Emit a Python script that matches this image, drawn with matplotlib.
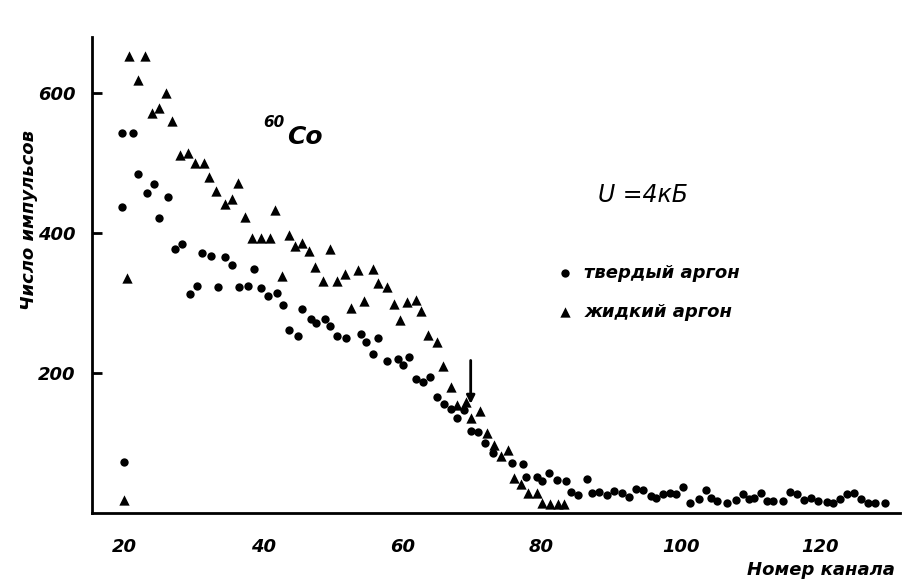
import numpy as np
import matplotlib
matplotlib.use("Agg")
import matplotlib.pyplot as plt

plt.rcParams['font.family'] = ['DejaVu Sans']

# solid argon (circles)
solid_ch = [19.9, 19.6, 19.7, 21.2, 22.0, 23.2, 24.3, 25.0, 26.2, 27.3, 28.3, 29.4,
            30.4, 31.2, 32.5, 33.5, 34.4, 35.4, 36.5, 37.7, 38.6, 39.7, 40.7, 41.9,
            42.8, 43.6, 44.9, 45.5, 46.8, 47.6, 48.8, 49.5, 50.6, 51.8, 54.0, 54.7,
            55.8, 56.5, 57.8, 59.3, 60.0, 60.9, 61.9, 62.9, 64.0, 64.9, 65.9, 67.0,
            67.9, 68.8, 69.8, 70.9, 71.8, 73.0, 75.8, 77.3, 77.8, 79.3, 80.1, 81.0,
            82.2, 83.5, 84.3, 85.3, 86.5, 87.3, 88.3, 89.4, 90.4, 91.6, 92.5, 93.6,
            94.6, 95.7, 96.5, 97.4, 98.4, 99.3, 100.4, 101.4, 102.6, 103.6, 104.3,
            105.3, 106.6, 107.9, 108.9, 109.8, 110.6, 111.5, 112.4, 113.3, 114.7,
            115.8, 116.7, 117.7, 118.8, 119.7, 121.0, 121.9, 122.9, 123.9, 125.0,
            125.9, 126.9, 128.0, 129.4]
solid_cnt = [73, 437, 543, 543, 484, 457, 470, 421, 451, 377, 384, 313,
             324, 371, 367, 323, 366, 354, 323, 324, 349, 321, 310, 314,
             297, 261, 253, 291, 277, 271, 277, 267, 253, 250, 256, 244,
             227, 250, 217, 220, 211, 223, 191, 187, 194, 166, 156, 149,
             136, 147, 117, 116, 100, 86, 71, 70, 51, 51, 46, 57,
             47, 46, 30, 26, 49, 29, 30, 26, 31, 29, 23, 34,
             33, 24, 22, 27, 29, 27, 37, 15, 20, 33, 21,
             17, 15, 18, 27, 20, 22, 29, 17, 17, 17,
             30, 27, 19, 22, 17, 16, 15, 20, 27, 28,
             20, 15, 15, 15]

# liquid argon (triangles)
liquid_ch = [20.0, 20.3, 20.7, 21.9, 22.9, 24.0, 25.0, 26.0, 26.9, 28.0, 29.2, 30.2,
             31.4, 32.2, 33.2, 34.4, 35.5, 36.4, 37.4, 38.3, 39.6, 40.9, 41.6, 42.7,
             43.7, 44.5, 45.6, 46.5, 47.4, 48.5, 49.5, 50.5, 51.7, 52.6, 53.6, 54.5,
             55.7, 56.5, 57.8, 58.7, 59.7, 60.7, 62.0, 62.6, 63.7, 64.9, 65.8, 66.9,
             67.8, 69.1, 69.9, 71.2, 72.1, 73.1, 74.2, 75.1, 76.0, 77.1, 78.0, 79.3,
             80.1, 81.2, 82.3, 83.2]
liquid_cnt = [19, 336, 653, 619, 653, 571, 579, 600, 560, 511, 514, 500,
              500, 480, 460, 441, 449, 471, 423, 393, 393, 393, 433, 339,
              398, 381, 386, 374, 352, 331, 377, 331, 342, 293, 347, 303,
              349, 329, 323, 299, 276, 301, 304, 289, 254, 244, 210, 180,
              154, 159, 136, 146, 114, 97, 81, 90, 50, 41, 29, 29,
              14, 13, 13, 13]

xticks = [20, 40, 60, 80, 100, 120]
yticks = [200, 400, 600]

fig = plt.figure(figsize=(9.18, 5.81), dpi=100)
ax = fig.add_axes([0.100, 0.117, 0.880, 0.819])

ax.scatter(solid_ch, solid_cnt, s=36, marker='o', color='black', linewidths=0,
           label='твердый аргон')
ax.scatter(liquid_ch, liquid_cnt, s=55, marker='^', color='black', linewidths=0,
           label='жидкий аргон')

ax.set_xlim(15.3, 131.5)
ax.set_ylim(0, 680)
ax.set_xticks(xticks)
ax.set_yticks(yticks)

for s in ['top', 'right']:
    ax.spines[s].set_visible(False)
for s in ['left', 'bottom']:
    ax.spines[s].set_linewidth(2.0)

ax.tick_params(axis='y', direction='in', length=7, width=2, pad=12)
ax.tick_params(axis='x', length=0, pad=18)
for lab in ax.get_xticklabels() + ax.get_yticklabels():
    lab.set_fontsize(13)
    lab.set_fontstyle('italic')
    lab.set_fontweight('bold')

ax.set_ylabel('Число импульсов', fontsize=13, fontstyle='italic', fontweight='bold')
ax.yaxis.set_label_coords(-0.066, 0.615)
ax.set_xlabel('Номер канала', fontsize=13, fontstyle='italic', fontweight='bold')
ax.xaxis.set_label_coords(0.903, -0.1)

# isotope label
ax.text(43.0, 558, '60', fontsize=11, fontstyle='italic', fontweight='bold',
        ha='right', va='center')
ax.text(43.4, 538, 'Co', fontsize=18, fontstyle='italic', fontweight='bold',
        ha='left', va='center')
ax.text(94.6, 454, 'U =4кБ', fontsize=17, fontstyle='italic', ha='center', va='center')

# arrow marking the edge
ax.annotate('', xy=(69.8, 152), xytext=(69.8, 222),
            arrowprops=dict(arrowstyle='-|>', color='black', lw=2.0, mutation_scale=12))

leg = ax.legend(loc='upper left', bbox_to_anchor=(0.554, 0.557), frameon=False,
                handletextpad=0.6, labelspacing=1.15, handlelength=1.0,
                prop={'size': 13, 'style': 'italic', 'weight': 'bold'})

fig.savefig('out.png', dpi=100)
